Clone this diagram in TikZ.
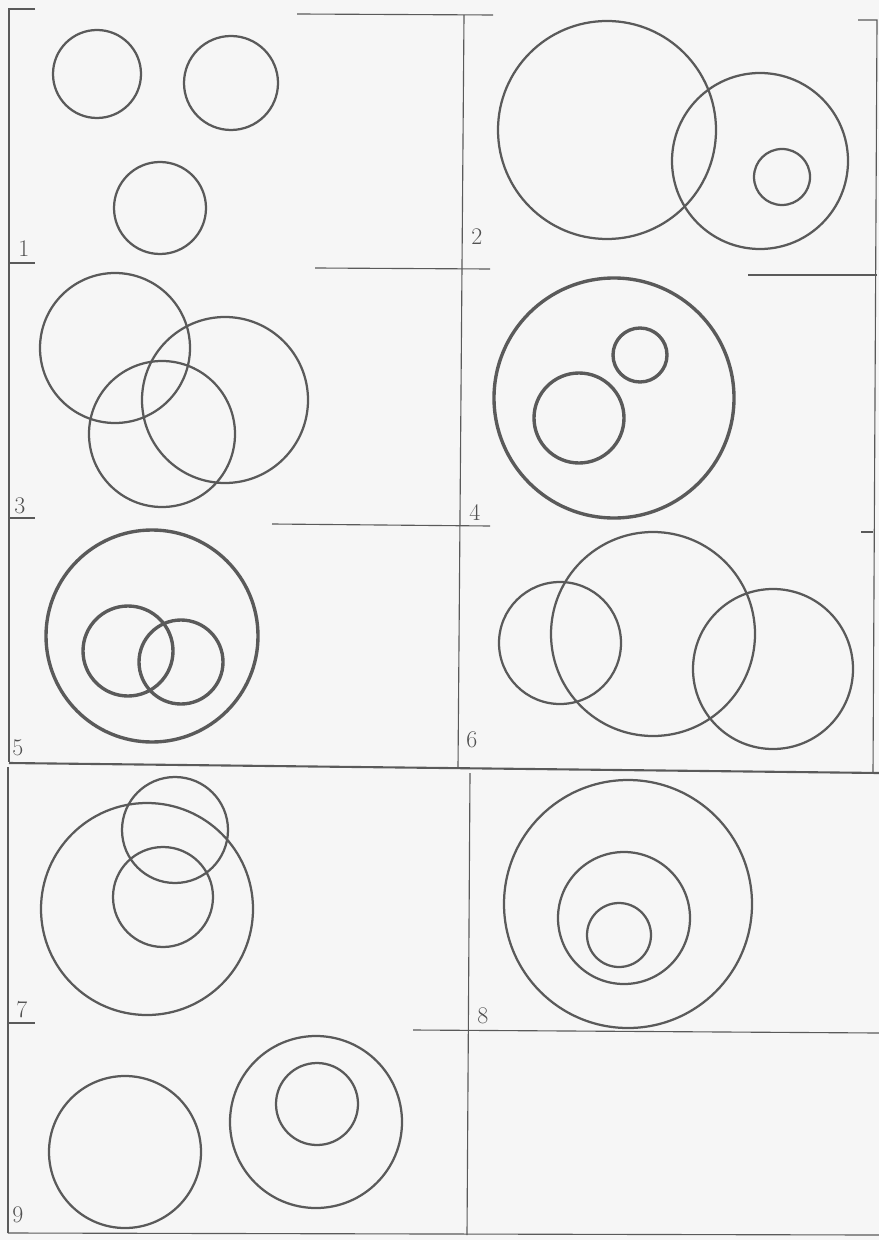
\documentclass[tikz,border=0pt]{standalone}
\usepackage{xcolor}
\definecolor{ink}{HTML}{5A5A5A}
\definecolor{paper}{HTML}{F6F6F6}
\usepackage{tikz}
\tikzset{
  ring/.style      = {draw=ink, line width=1.6pt},
  thickring/.style = {draw=ink, line width=2.4pt},
  frame/.style     = {draw=ink, line width=0.8pt},
  num/.style       = {anchor=base west, inner sep=0pt, text=ink!90!black,
                      font=\fontsize{17}{17}\selectfont}
}

\begin{document}
\begin{tikzpicture}[x=0.025cm, y=-0.025cm]
  \fill[paper] (0,0) rectangle (879,1240);
  \useasboundingbox (0,0) rectangle (879,1240);

  % frame lines
  \draw[frame] (35,9) -- (9,9) -- (9,762);
  \draw[frame] (297,14) -- (493,15);
  \draw[frame] (464,15) -- (458,768);
  \draw[frame] (858,20) -- (877,20) -- (873,773);
  \draw[frame] (9,263) -- (35,263);
  \draw[frame] (315,268) -- (490,269);
  \draw[frame] (748,275) -- (877,275);
  \draw[frame] (9,518) -- (35,518);
  \draw[frame] (272,524) -- (490,526);
  \draw[frame] (861,532) -- (873,532);
  \draw[frame, line width=1.5pt] (9,763) -- (879,773);
  \draw[frame] (8,767) -- (8,1233);
  \draw[frame] (470,773) -- (467,1235);
  \draw[frame] (8,1023) -- (35,1023);
  \draw[frame] (413,1030) -- (879,1033);
  \draw[frame] (8,1233) -- (879,1235);

  % 1
  \foreach \x/\y/\r in {97/74/44, 231/83/47, 160/208/46}
    \draw[ring] (\x,\y) circle (\r);
  % 2
  \foreach \x/\y/\r in {607/130/109, 760/161/88, 782/177/28}
    \draw[ring] (\x,\y) circle (\r);
  % 3
  \foreach \x/\y/\r in {115/348/75, 162/434/73, 225/400/83}
    \draw[ring] (\x,\y) circle (\r);
  % 4
  \draw[thickring] (614,398) circle (120);
  \foreach \x/\y/\r in {640/355/27, 579/418/45}
    \draw[thickring] (\x,\y) circle (\r);
  % 5
  \draw[thickring] (152,636) circle (106);
  \foreach \x/\y/\r in {128/651/45, 181/662/42}
    \draw[thickring] (\x,\y) circle (\r);
  % 6
  \foreach \x/\y/\r in {560/643/61, 653/634/102, 773/669/80}
    \draw[ring] (\x,\y) circle (\r);
  % 7
  \foreach \x/\y/\r in {147/909/106, 175/830/53, 163/897/50}
    \draw[ring] (\x,\y) circle (\r);
  % 8
  \foreach \x/\y/\r in {628/904/124, 624/918/66, 619/935/32}
    \draw[ring] (\x,\y) circle (\r);
  % 9
  \foreach \x/\y/\r in {125/1152/76, 316/1122/86, 317/1104/41}
    \draw[ring] (\x,\y) circle (\r);

  % panel numbers
  \node[num] (n1) at (18,257)  {1};
  \node[num] (n2) at (471,245) {2};
  \node[num] (n3) at (14,513)  {3};
  \node[num] (n4) at (469,520) {4};
  \node[num] (n5) at (12,755)  {5};
  \node[num] (n6) at (466,747) {6};
  \node[num] (n7) at (16,1017) {7};
  \node[num] (n8) at (477,1023){8};
  \node[num] (n9) at (12,1222) {9};
\end{tikzpicture}
\end{document}
